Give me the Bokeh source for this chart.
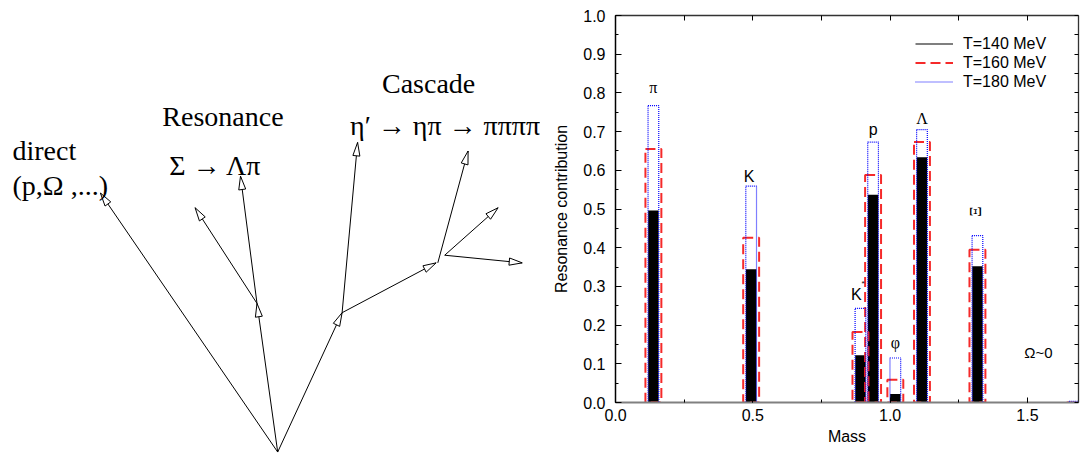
import numpy as np
from bokeh.plotting import figure
from bokeh.models import (Range1d, LinearAxis, SingleIntervalTicker, FixedTicker, PrintfTickFormatter,
                          Legend, LegendItem, Label, ColumnDataSource)
from bokeh.layouts import row
from bokeh.embed import file_html
from bokeh.resources import INLINE
from bokeh.core.properties import value

# ---------------- data: resonance contribution per particle ----------------
particles = ["π", "K", "K", "p", "φ", "Λ", "Ξ", "Ω"]
mass = [0.138, 0.494, 0.892, 0.938, 1.019, 1.116, 1.318, 1.672]
t140 = [0.496, 0.344, 0.122, 0.537, 0.022, 0.634, 0.352, 0.0]
t160 = [0.655, 0.426, 0.182, 0.588, 0.059, 0.673, 0.395, 0.0]
t180 = [0.767, 0.559, 0.243, 0.673, 0.115, 0.705, 0.431, 0.003]
series_labels = ["T=140 MeV", "T=160 MeV", "T=180 MeV"]
omega_note = "Ω~0"

# ---------------- data: decay-chain sketch (sketch units) ----------------
arrow_x0 = [277.2, 277.2, 256.5, 256.5, 277.2, 341.6, 341.6, 437.3, 444.2, 444.2]
arrow_y0 = [450.0, 450.0, 306.0, 306.0, 450.0, 315.0, 315.0, 266.7, 259.3, 259.3]
arrow_x1 = [99.9, 256.5, 194.6, 240.0, 341.6, 357.1, 435.6, 467.6, 497.6, 521.7]
arrow_y1 = [199.0, 306.0, 213.3, 182.7, 315.0, 150.0, 266.7, 158.3, 213.3, 266.7]
sketch_texts = ["direct", "(p,Ω ,...)", "Resonance", "Σ → Λπ", "Cascade", "η′ → ηπ → ππππ"]
sketch_tx = [12.0, 12.0, 161.8, 168.7, 381.5, 349.5]
sketch_ty = [158.0, 191.7, 125.0, 172.7, 93.3, 133.3]

SANS = "Liberation Sans"
SERIF = "Liberation Serif"
B_TOP, B_BOT = 15, 51   # frame borders of the chart
H = 453
SK_TOP, SK_BOT = 27, 402  # sketch frame extent as laid out next to the chart
X_MAX = 1.686

# ======================= left: sketch =======================
W_L = 540
s = figure(width=W_L, height=H, x_range=Range1d(0, W_L), y_range=Range1d(SK_BOT, SK_TOP),
           x_axis_type=None, y_axis_type=None, title=None,
           min_border_left=0, min_border_right=0, min_border_top=B_TOP, min_border_bottom=B_BOT,
           toolbar_location=None, output_backend="svg")
s.grid.visible = False
s.outline_line_color = None

x0 = np.array(arrow_x0); y0 = np.array(arrow_y0)
x1 = np.array(arrow_x1); y1 = np.array(arrow_y1)
seg = s.segment(x0=x0, y0=y0, x1=x1, y1=y1, line_color="black", line_width=1)
L, Wd = 13.0, 7.0
dx, dy = x1 - x0, y1 - y0
ln = np.hypot(dx, dy)
ux, uy = dx / ln, dy / ln
bx, by = x1 - L * ux, y1 - L * uy
nx, ny = -uy, ux
hx = [[a, b + Wd / 2 * c, b - Wd / 2 * c] for a, b, c in zip(x1, bx, nx)]
hy = [[a, b + Wd / 2 * c, b - Wd / 2 * c] for a, b, c in zip(y1, by, ny)]
hd = s.patches(xs=hx, ys=hy, fill_color="white", line_color="black", line_width=1)
tx = s.text(x=sketch_tx, y=sketch_ty, text=sketch_texts, text_font=value(SERIF),
            text_font_size="28px", text_color="black", text_baseline="alphabetic", text_align="left")
for r in (seg, hd, tx):
    r.level = "overlay"

# ======================= right: bar chart =======================
p = figure(width=540, height=H, x_range=Range1d(0, X_MAX), y_range=Range1d(0, 1.0),
           x_axis_label="Mass", y_axis_label="Resonance contribution", title=None,
           min_border_left=75, min_border_right=2, min_border_top=B_TOP, min_border_bottom=B_BOT,
           toolbar_location=None, output_backend="svg")
p.grid.visible = False
p.outline_line_color = None

src = ColumnDataSource(dict(mass=mass, t140=t140, t160=t160, t180=t180))
p.vbar(x="mass", top="t140", width=0.038, bottom=0, source=src,
       fill_color="black", line_color=None)
p.vbar(x="mass", top="t160", width=0.058, bottom=0, source=src,
       fill_color=None, line_color="#f52a2a", line_width=2, line_dash="10 5")
p.vbar(x="mass", top="t180", width=0.039, bottom=0, source=src,
       fill_color=None, line_color="#0000ff", line_width=1.2, line_dash="1 1")

# particle labels above bars
lab_dx = [0, -2, -4, 0, 0, 0, -2]
lab_dy = [-18, -10, -14, -13, -15, -11, -24]
serif_idx = [0, 4, 5]
for i in range(7):
    top = t180[i]
    font = SERIF if i in serif_idx else SANS
    if i == 6:
        p.text(x=[mass[i]], y=[top], text=[particles[i]], x_offset=lab_dx[i], y_offset=lab_dy[i],
               angle=np.pi / 2, text_font=value(SERIF), text_font_size="16px",
               text_align="center", text_baseline="middle", text_color="black")
    else:
        p.text(x=[mass[i]], y=[top], text=[particles[i]], x_offset=lab_dx[i], y_offset=lab_dy[i],
               text_font=value(font), text_font_size="16px",
               text_align="center", text_baseline="alphabetic", text_color="black")
# K* superscript star
p.text(x=[mass[2]], y=[t180[2]], text=["*"], x_offset=1, y_offset=-25,
       text_font=value(SANS), text_font_size="8px", text_align="left",
       text_baseline="alphabetic", text_color="black")
p.add_layout(Label(x=1.54, y=0.13, text=omega_note, text_font=SANS, text_font_size="15px",
                   text_align="center", text_baseline="middle", text_color="black"))

# legend (line samples; single-point lines draw nothing in the frame)
r1 = p.line(x=[mass[0]], y=[t140[0]], line_color="black", line_width=1.2)
r2 = p.line(x=[mass[0]], y=[t160[0]], line_color="#f52a2a", line_width=2, line_dash="10 5")
r3 = p.line(x=[mass[0]], y=[t180[0]], line_color="#0000ff", line_width=1.2, line_dash="1 1")
leg = Legend(items=[LegendItem(label=series_labels[0], renderers=[r1]),
                    LegendItem(label=series_labels[1], renderers=[r2]),
                    LegendItem(label=series_labels[2], renderers=[r3])],
             location=(300, 311), margin=0, padding=0, spacing=0,
             glyph_width=38, glyph_height=19, label_height=19, label_standoff=10,
             label_text_font=SANS, label_text_font_size="16px", label_text_color="black",
             border_line_color=None, background_fill_alpha=0)
p.add_layout(leg)

# axes
xa = p.xaxis[0]
xa.ticker = SingleIntervalTicker(interval=0.5, num_minor_ticks=2)
xa.formatter = PrintfTickFormatter(format="%.1f")
ya = p.yaxis[0]
ya.ticker = SingleIntervalTicker(interval=0.1, num_minor_ticks=2)
ya.formatter = PrintfTickFormatter(format="%.1f")
for ax in (xa, ya):
    ax.major_label_text_font = SANS
    ax.major_label_text_font_size = "16px"
    ax.major_label_text_color = "black"
    ax.axis_label_text_font = SANS
    ax.axis_label_text_font_size = "16px"
    ax.axis_label_text_font_style = "normal"
    ax.axis_label_text_color = "black"
    ax.major_tick_out = 0
    ax.minor_tick_out = 0
    ax.major_tick_line_color = "black"
    ax.minor_tick_line_color = "black"
xa.major_tick_in = 5
xa.minor_tick_in = 3
xa.axis_line_color = "#808080"
xa.axis_line_width = 2
xa.major_label_standoff = 6
xa.axis_label_standoff = 4
ya.major_tick_in = 6
ya.minor_tick_in = 3
ya.axis_line_color = "black"
ya.axis_line_width = 1.5
ya.major_label_standoff = 10
ya.axis_label_standoff = 10

# unlabelled mirror axes (tick marks only)
top_ticks = list(np.arange(0, X_MAX, 0.25))
right_ticks = list(np.round(np.arange(0, 1.0001, 0.05), 2))
top_ax = LinearAxis(ticker=FixedTicker(ticks=[], minor_ticks=top_ticks),
                    major_label_standoff=0, major_tick_in=0, major_tick_out=0,
                    minor_tick_in=5, minor_tick_out=0, minor_tick_line_color="black",
                    axis_line_color="#333333", axis_line_width=1.3)
right_ax = LinearAxis(ticker=FixedTicker(ticks=[], minor_ticks=right_ticks),
                      major_label_standoff=0, major_tick_in=0, major_tick_out=0,
                      minor_tick_in=4, minor_tick_out=0, minor_tick_line_color="black",
                      axis_line_color="#333333", axis_line_width=1.3)
p.add_layout(top_ax, "above")
p.add_layout(right_ax, "right")

layout = row(s, p)
open("out.html", "w").write(file_html(layout, INLINE))
